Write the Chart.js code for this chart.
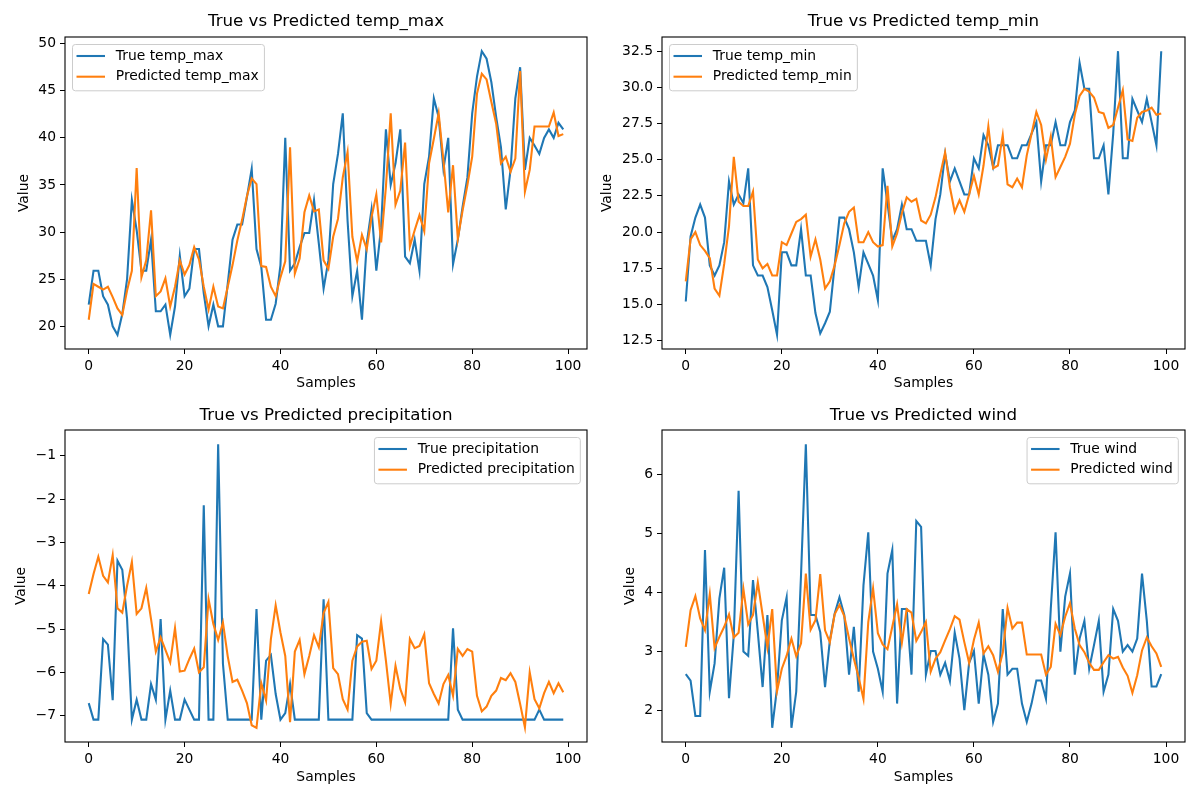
<!DOCTYPE html>
<html><head><meta charset="utf-8">
<script src="https://cdn.jsdelivr.net/npm/chart.js@4.4.1/dist/chart.umd.min.js"></script>
<style>
html,body{margin:0;padding:0;background:#fff;}
#wrap{position:relative;width:1200px;height:800px;overflow:hidden;background:#fff;}
canvas{position:absolute;}
</style></head><body><div id="wrap">
<canvas id="c1"></canvas><canvas id="c2"></canvas><canvas id="c3"></canvas><canvas id="c4"></canvas>
</div>
<script>
const samples = [0,1,2,3,4,5,6,7,8,9,10,11,12,13,14,15,16,17,18,19,20,21,22,23,24,25,26,27,28,29,30,31,32,33,34,35,36,37,38,39,40,41,42,43,44,45,46,47,48,49,50,51,52,53,54,55,56,57,58,59,60,61,62,63,64,65,66,67,68,69,70,71,72,73,74,75,76,77,78,79,80,81,82,83,84,85,86,87,88,89,90,91,92,93,94,95,96,97,98,99];

const tempMaxTrue = [22.3,25.9,25.9,23.2,22.3,20.0,19.1,21.3,25.0,33.4,30.2,25.9,25.9,29.2,21.6,21.6,22.3,19.1,22.1,27.5,23.2,24.0,28.2,28.2,23.5,20.0,22.3,20.0,20.0,24.5,29.2,30.8,30.8,33.7,36.7,28.2,26.3,20.7,20.7,22.4,26.5,40.0,25.9,26.7,28.4,29.9,29.9,33.4,28.8,24.0,27.0,35.1,38.3,42.6,31.2,23.2,25.9,20.7,28.8,32.4,25.9,30.5,40.9,35.0,37.3,40.9,27.4,26.7,29.2,25.9,35.1,38.0,44.2,42.2,36.7,40.0,26.6,29.2,32.7,35.8,42.6,46.5,49.2,48.4,45.9,42.2,39.0,32.4,36.6,44.2,47.5,36.6,40.0,39.2,38.3,40.0,40.9,40.0,41.6,40.9];
const tempMaxPred = [20.7,24.5,24.2,23.9,24.2,23.1,21.9,21.2,23.8,25.9,36.8,25.2,27.0,32.3,23.2,23.7,25.1,22.1,24.2,27.0,25.5,26.5,28.4,27.1,24.2,21.8,24.2,22.1,21.9,24.2,26.5,29.1,31.3,33.8,35.7,35.1,26.4,26.3,24.2,23.2,25.2,26.9,39.0,25.6,27.2,32.1,33.9,32.2,32.4,27.0,26.1,29.5,31.4,35.8,38.5,29.5,26.9,29.7,28.2,31.6,34.0,28.9,34.8,42.6,32.9,34.4,39.5,28.5,30.2,31.8,30.1,37.3,39.9,42.6,37.6,32.1,37.1,29.3,32.3,35.0,38.0,44.7,46.8,46.2,43.8,41.5,37.3,38.0,36.4,37.8,47.1,34.3,36.6,41.2,41.2,41.2,41.2,42.7,40.2,40.4];

const tempMinTrue = [15.2,19.7,21.0,21.9,21.0,17.7,17.0,17.7,19.3,23.5,21.9,22.6,22.0,24.4,17.7,17.0,17.0,16.2,14.6,12.9,18.6,18.6,17.7,17.7,20.2,17.0,17.0,14.4,13.0,13.7,14.5,17.7,21.0,21.0,20.2,18.6,16.2,18.6,17.8,17.0,15.3,24.4,22.0,19.4,20.2,21.9,20.2,20.2,19.4,19.4,19.4,17.7,20.9,22.6,25.4,23.5,24.4,23.5,22.6,22.6,25.1,24.4,26.7,26.0,24.5,26.0,26.0,26.0,25.1,25.1,26.0,26.0,26.8,27.6,23.5,26.0,26.0,27.6,26.0,26.0,27.6,28.4,31.7,29.9,29.9,25.1,25.1,26.0,22.6,26.8,32.5,25.1,25.1,29.2,28.4,27.6,29.2,27.6,26.0,32.5];
const tempMinPred = [16.6,19.5,20.0,19.1,18.7,18.2,16.1,15.6,17.8,20.4,25.2,22.1,21.8,21.8,22.8,18.1,17.5,17.8,17.0,17.0,19.3,19.1,19.9,20.7,20.9,21.2,18.3,19.5,18.1,16.1,16.6,17.7,19.1,20.6,21.4,21.7,19.3,19.3,20.0,19.3,19.0,19.1,23.2,19.0,19.9,21.3,22.4,22.1,22.3,20.8,20.6,21.2,22.4,24.0,25.5,23.1,21.4,22.2,21.4,22.6,23.9,22.6,24.6,27.3,24.4,24.6,26.7,23.3,23.1,23.7,23.1,25.3,26.8,28.3,27.4,25.0,26.6,23.8,24.5,25.2,26.1,28.1,29.4,29.9,29.7,29.3,28.3,28.2,27.2,27.4,28.6,29.8,26.4,26.3,27.9,28.3,28.4,28.6,28.1,28.2];

const precipTrue = [-6.71,-7.09,-7.09,-5.23,-5.36,-6.64,-3.42,-3.63,-4.77,-7.09,-6.63,-7.09,-7.09,-6.27,-6.63,-4.77,-7.09,-6.42,-7.09,-7.09,-6.63,-6.86,-7.09,-7.09,-2.14,-7.09,-7.09,-0.73,-5.8,-7.09,-7.09,-7.09,-7.09,-7.09,-7.09,-4.54,-7.09,-5.73,-5.6,-6.5,-7.09,-6.94,-6.27,-7.09,-7.09,-7.09,-7.09,-7.09,-7.09,-4.31,-7.09,-7.09,-7.09,-7.09,-7.09,-7.09,-5.14,-5.22,-6.94,-7.09,-7.09,-7.09,-7.09,-7.09,-7.09,-7.09,-7.09,-7.09,-7.09,-7.09,-7.09,-7.09,-7.09,-7.09,-7.09,-7.09,-4.98,-6.86,-7.09,-7.09,-7.09,-7.09,-7.09,-7.09,-7.09,-7.09,-7.09,-7.09,-7.09,-7.09,-7.09,-7.09,-7.09,-7.09,-6.86,-7.09,-7.09,-7.09,-7.09,-7.09];
const precipPred = [-4.19,-3.73,-3.33,-3.77,-3.92,-3.29,-4.52,-4.62,-4.0,-3.45,-4.65,-4.52,-4.05,-4.77,-5.52,-5.19,-5.48,-5.77,-4.98,-5.98,-5.96,-5.69,-5.45,-6.0,-5.88,-4.31,-4.88,-5.25,-4.85,-5.63,-6.22,-6.17,-6.42,-6.71,-7.22,-7.28,-6.25,-6.65,-5.23,-4.45,-5.08,-5.62,-7.15,-5.52,-5.25,-6.04,-5.62,-5.14,-5.42,-4.63,-4.37,-5.9,-6.04,-6.62,-6.86,-5.73,-5.4,-5.29,-5.27,-5.92,-5.73,-4.82,-5.73,-6.73,-5.85,-6.38,-6.69,-5.23,-5.44,-5.39,-5.12,-6.25,-6.5,-6.72,-6.27,-6.06,-6.54,-5.46,-5.62,-5.46,-5.52,-6.54,-6.9,-6.79,-6.54,-6.42,-6.13,-6.18,-6.02,-6.22,-6.73,-7.27,-6.0,-6.62,-6.83,-6.48,-6.22,-6.48,-6.25,-6.46];

const windTrue = [2.62,2.51,1.91,1.91,4.72,2.32,2.8,3.9,4.42,2.21,3.28,5.72,3.0,2.93,4.21,3.33,2.4,3.62,1.71,2.38,3.53,3.92,1.71,2.32,4.3,6.51,3.62,3.62,3.33,2.4,3.19,3.64,3.92,3.62,2.61,3.42,2.32,4.12,5.02,3.0,2.71,2.32,4.32,4.72,2.12,3.72,3.72,2.61,5.21,5.11,2.61,3.01,3.01,2.61,2.81,2.5,3.32,2.88,2.01,2.81,3.01,2.12,2.95,2.61,1.81,2.12,3.72,2.61,2.71,2.71,2.12,1.81,2.12,2.51,2.51,2.2,3.72,5.02,3.0,3.93,4.32,2.61,3.22,3.52,2.71,3.11,3.52,2.32,2.61,3.72,3.52,3.0,3.11,3.0,3.22,4.32,3.52,2.41,2.41,2.62];
const windPred = [3.08,3.7,3.94,3.56,3.36,3.97,3.06,3.25,3.42,3.63,3.24,3.32,4.06,3.46,3.62,4.17,3.62,3.07,3.72,2.33,2.71,2.93,3.22,2.92,3.14,4.32,3.37,3.53,4.31,3.36,3.16,3.63,3.79,3.6,3.22,2.88,2.56,2.2,3.5,4.07,3.31,3.12,3.04,3.42,3.8,3.15,3.72,3.66,3.18,3.33,3.5,2.66,2.88,2.99,3.19,3.38,3.6,3.54,3.16,2.81,3.2,3.49,2.97,3.09,2.94,2.66,2.98,3.74,3.39,3.49,3.49,2.95,2.95,2.95,2.95,2.61,2.74,3.47,3.28,3.59,3.82,3.39,3.11,2.99,2.81,2.69,2.69,2.82,2.94,2.88,2.91,2.73,2.59,2.3,2.6,3.02,3.24,3.09,2.97,2.74];

const xTicks = [0,20,40,60,80,100];
const tempMaxTicks = [20,25,30,35,40,45,50];
const tempMinTicks = [12.5,15,17.5,20,22.5,25,27.5,30,32.5];
const precipTicks = [-7,-6,-5,-4,-3,-2,-1];
const windTicks = [2,3,4,5,6];

Chart.defaults.font.family = "'DejaVu Sans', sans-serif";
Chart.defaults.color = '#000';

function rr(ctx, x, y, w, h, r) {
  ctx.beginPath();
  ctx.moveTo(x + r, y);
  ctx.lineTo(x + w - r, y); ctx.arcTo(x + w, y, x + w, y + r, r);
  ctx.lineTo(x + w, y + h - r); ctx.arcTo(x + w, y + h, x + w - r, y + h, r);
  ctx.lineTo(x + r, y + h); ctx.arcTo(x, y + h, x, y + h - r, r);
  ctx.lineTo(x, y + r); ctx.arcTo(x, y, x + r, y, r);
  ctx.closePath();
}

const framePlugin = { id: 'frame', afterDraw(chart) {
  const ctx = chart.ctx, a = chart.chartArea;
  ctx.save(); ctx.strokeStyle = '#000'; ctx.lineWidth = 1.1;
  ctx.strokeRect(a.left, a.top, a.right - a.left, a.bottom - a.top);
  ctx.restore();
}};

const legendPlugin = { id: 'mplLegend', afterDraw(chart, args, opts) {
  const ctx = chart.ctx, a = chart.chartArea;
  ctx.save();
  ctx.font = '13.89px "DejaVu Sans"';
  const items = chart.data.datasets;
  const tw = Math.max(...items.map(d => ctx.measureText(d.label).width));
  const w = 43.3 + tw + 5.6, h = 46.3;
  const x = opts.loc === 'right' ? a.right - 6.7 - w : a.left + 7.5;
  const y = a.top + 7.5;
  rr(ctx, x, y, w, h, 2.8);
  ctx.fillStyle = 'rgba(255,255,255,0.8)'; ctx.fill();
  ctx.strokeStyle = '#cccccc'; ctx.lineWidth = 1; ctx.stroke();
  items.forEach((d, i) => {
    const cy = y + 11.5 + i * 20.7;
    ctx.beginPath(); ctx.moveTo(x + 4, cy); ctx.lineTo(x + 32.5, cy);
    ctx.strokeStyle = d.borderColor; ctx.lineWidth = 2.08; ctx.stroke();
    ctx.fillStyle = '#000'; ctx.textBaseline = 'middle'; ctx.textAlign = 'left';
    ctx.fillText(d.label, x + 43.3, cy);
  });
  ctx.restore();
}};

function makeChart(id, c) {
  const cv = document.getElementById(id);
  cv.width = c.box.w; cv.height = c.box.h;
  cv.style.left = c.box.x + 'px'; cv.style.top = c.box.y + 'px';
  cv.style.width = c.box.w + 'px'; cv.style.height = c.box.h + 'px';
  const all = c.trueVals.concat(c.predVals);
  const lo = Math.min(...all), hi = Math.max(...all), m = (hi - lo) * 0.05;
  const xm = (samples[samples.length - 1] - samples[0]) * 0.05;
  const tLH = 16.67 * 1.2, lLH = 13.89 * 1.2;
  const tTop = c.titleY - c.box.y - tLH / 2;
  const tBot = (c.plot.t - c.box.y) - tTop - tLH;
  const tickFont = { size: 13.89 };
  const gridOpt = { display: true, drawOnChartArea: false, drawTicks: true, tickLength: 5, color: '#000', lineWidth: 1 };
  return new Chart(cv, {
    type: 'line',
    data: { labels: samples, datasets: [
      { label: c.names[0], data: c.trueVals, borderColor: '#1f77b4', backgroundColor: '#1f77b4', borderWidth: 2.08, pointRadius: 0, pointHoverRadius: 0, tension: 0, fill: false, order: 1 },
      { label: c.names[1], data: c.predVals, borderColor: '#ff7f0e', backgroundColor: '#ff7f0e', borderWidth: 2.08, pointRadius: 0, pointHoverRadius: 0, tension: 0, fill: false, order: 0 }
    ]},
    options: {
      responsive: false, animation: false, events: [],
      layout: { padding: { left: 0, top: 0, bottom: 0, right: c.box.x + c.box.w - c.plot.r } },
      plugins: {
        legend: { display: false }, tooltip: { enabled: false },
        title: { display: true, text: c.title, fullSize: false, color: '#000', font: { size: 16.67, weight: 'normal', lineHeight: 1.2 }, padding: { top: tTop, bottom: tBot } },
        mplLegend: { loc: c.legendLoc }
      },
      scales: {
        x: {
          type: 'linear', min: samples[0] - xm, max: samples[samples.length - 1] + xm,
          afterBuildTicks: s => { s.ticks = xTicks.map(v => ({ value: v })); },
          afterFit: s => { s.height = c.box.y + c.box.h - c.plot.b; },
          ticks: { color: '#000', font: tickFont, padding: 4, maxRotation: 0, autoSkip: false, callback: v => String(v) },
          grid: gridOpt, border: { display: false },
          title: { display: true, text: 'Samples', color: '#000', font: { size: 13.89, lineHeight: 1.2 }, padding: { top: 0, bottom: c.box.y + c.box.h - c.xlabY - lLH / 2 } }
        },
        y: {
          type: 'linear', min: lo - m, max: hi + m,
          afterBuildTicks: s => { s.ticks = c.yTicks.map(v => ({ value: v })); },
          afterFit: s => { s.width = c.plot.l - c.box.x; },
          ticks: { color: '#000', font: tickFont, padding: 4, autoSkip: false, callback: c.yFmt },
          grid: gridOpt, border: { display: false },
          title: { display: true, text: 'Value', color: '#000', font: { size: 13.89, lineHeight: 1.2 }, padding: { top: c.ylabX - c.box.x - lLH / 2, bottom: 0 } }
        }
      }
    },
    plugins: [framePlugin, legendPlugin]
  });
}

const fmtInt = v => String(v).replace('-', '\u2212');
const fmt1 = v => v.toFixed(1);

makeChart('c1', { box: { x: 0, y: 0, w: 600, h: 400 }, plot: { l: 65, r: 587, t: 37, b: 349 }, titleY: 22, ylabX: 24, xlabY: 383,
  title: 'True vs Predicted temp_max', names: ['True temp_max', 'Predicted temp_max'], trueVals: tempMaxTrue, predVals: tempMaxPred, yTicks: tempMaxTicks, yFmt: fmtInt, legendLoc: 'left' });
makeChart('c2', { box: { x: 590, y: 0, w: 610, h: 400 }, plot: { l: 662, r: 1185, t: 37, b: 349 }, titleY: 22, ylabX: 607, xlabY: 383,
  title: 'True vs Predicted temp_min', names: ['True temp_min', 'Predicted temp_min'], trueVals: tempMinTrue, predVals: tempMinPred, yTicks: tempMinTicks, yFmt: fmt1, legendLoc: 'left' });
makeChart('c3', { box: { x: 0, y: 400, w: 600, h: 400 }, plot: { l: 65, r: 587, t: 430, b: 742 }, titleY: 416, ylabX: 21, xlabY: 777,
  title: 'True vs Predicted precipitation', names: ['True precipitation', 'Predicted precipitation'], trueVals: precipTrue, predVals: precipPred, yTicks: precipTicks, yFmt: fmtInt, legendLoc: 'right' });
makeChart('c4', { box: { x: 590, y: 400, w: 610, h: 400 }, plot: { l: 662, r: 1185, t: 430, b: 742 }, titleY: 416, ylabX: 630, xlabY: 777,
  title: 'True vs Predicted wind', names: ['True wind', 'Predicted wind'], trueVals: windTrue, predVals: windPred, yTicks: windTicks, yFmt: fmtInt, legendLoc: 'right' });
</script>
</body></html>
